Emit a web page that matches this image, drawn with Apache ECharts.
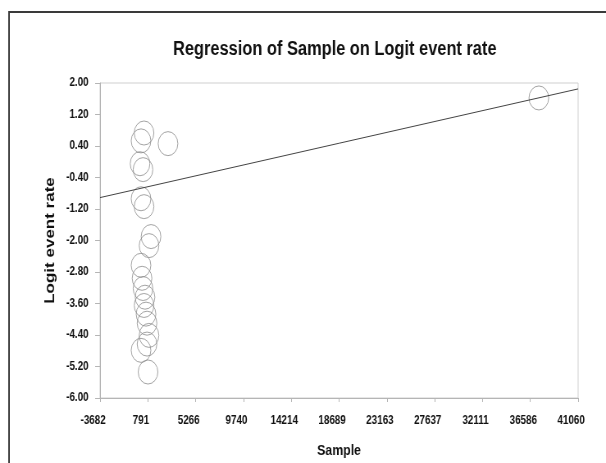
<!DOCTYPE html>
<html><head><meta charset="utf-8">
<script src="https://cdn.jsdelivr.net/npm/echarts@6/dist/echarts.min.js"></script>
<style>
html,body{margin:0;padding:0;background:#fff;overflow:hidden;width:606px;height:463px}
#c{width:739px;height:463px;transform:scaleX(0.82);transform-origin:0 0}
</style>
</head><body><div id="c"></div>
<script>
// Study points: sample size (x) and logit event rate (y)
const sampleX = [434, 153, 2679, 60, 340, 153, 434, 1089, 902, 153, 247, 340, 527, 434, 621, 715, 902, 715, 153, 808, 37384];
const logitY  = [0.73, 0.53, 0.46, -0.05, -0.20, -0.94, -1.14, -1.90, -2.13, -2.63, -2.96, -3.22, -3.44, -3.65, -3.87, -4.10, -4.41, -4.63, -4.79, -5.34, 1.62];
// Regression line end points
const lineX = [-3682, 41060];
const lineY = [-0.91, 1.85];
// Tick labels
const xTickLabels = ['-3682','791','5266','9740','14214','18689','23163','27637','32111','36586','41060'];
const yTickLabels = ['-6.00','-5.20','-4.40','-3.60','-2.80','-2.00','-1.20','-0.40','0.40','1.20','2.00'];

const FONT = "'Liberation Sans',Arial,sans-serif";
const xMin = -3682, xMax = 41060, xStep = (xMax - xMin) / 10;
const yMin = -6, yMax = 2, yStep = 0.8;

const points = sampleX.map((x, i) => [x, logitY[i]]);
const linePts = lineX.map((x, i) => [x, lineY[i]]);

const chart = echarts.init(document.getElementById('c'), null, {renderer: 'canvas'});
chart.setOption({
  animation: false,
  backgroundColor: '#fff',
  graphic: [{
    type: 'rect', silent: true, z: -10,
    shape: {x: 11, y: 12, width: 900, height: 600},
    style: {fill: 'none', stroke: '#3a3a3a', lineWidth: 2}
  }],
  title: {
    text: 'Regression of Sample on Logit event rate',
    left: 206, top: 34,
    textStyle: {fontFamily: FONT, fontWeight: 'bold', fontSize: 20, color: '#111'}
  },
  grid: {left: 122, top: 83, right: 34, bottom: 64, show: true, borderColor: '#cfcfcf', borderWidth: 1},
  xAxis: {
    type: 'value', min: xMin, max: xMax, interval: xStep,
    name: 'Sample', nameLocation: 'middle', nameGap: 45,
    nameTextStyle: {fontFamily: FONT, fontWeight: 'bold', fontSize: 15, color: '#111'},
    axisLine: {show: true, onZero: false, lineStyle: {color: '#b5b5b5', width: 1}},
    axisTick: {show: true, inside: false, length: 4, lineStyle: {color: '#b5b5b5'}},
    splitLine: {show: false},
    axisLabel: {
      fontFamily: FONT, fontWeight: 'bold', fontSize: 12, color: '#111', margin: 17,
      padding: [0, 17, 0, 0],
      formatter: v => xTickLabels[Math.round((v - xMin) / xStep)] ?? ''
    }
  },
  yAxis: {
    type: 'value', min: yMin, max: yMax, interval: yStep,
    name: 'Logit event rate', nameLocation: 'middle', nameGap: 50,
    nameTextStyle: {fontFamily: FONT, fontWeight: 'bold', fontSize: 17, color: '#111'},
    axisLine: {show: true, onZero: false, lineStyle: {color: '#b5b5b5', width: 1}},
    axisTick: {show: true, inside: false, length: 6, lineStyle: {color: '#b5b5b5'}},
    splitLine: {show: false},
    axisLabel: {
      fontFamily: FONT, fontWeight: 'bold', fontSize: 12, color: '#111', margin: 14,
      formatter: v => yTickLabels[Math.round((v - yMin) / yStep)] ?? ''
    }
  },
  series: [
    {
      type: 'line', data: linePts, symbol: 'none', silent: true,
      lineStyle: {color: '#444', width: 1}, z: 3
    },
    {
      type: 'scatter', data: points, symbol: 'circle', symbolSize: 24,
      itemStyle: {color: 'rgba(0,0,0,0)', borderColor: '#8c8c8c', borderWidth: 1}, z: 2
    }
  ]
});
</script></body></html>
